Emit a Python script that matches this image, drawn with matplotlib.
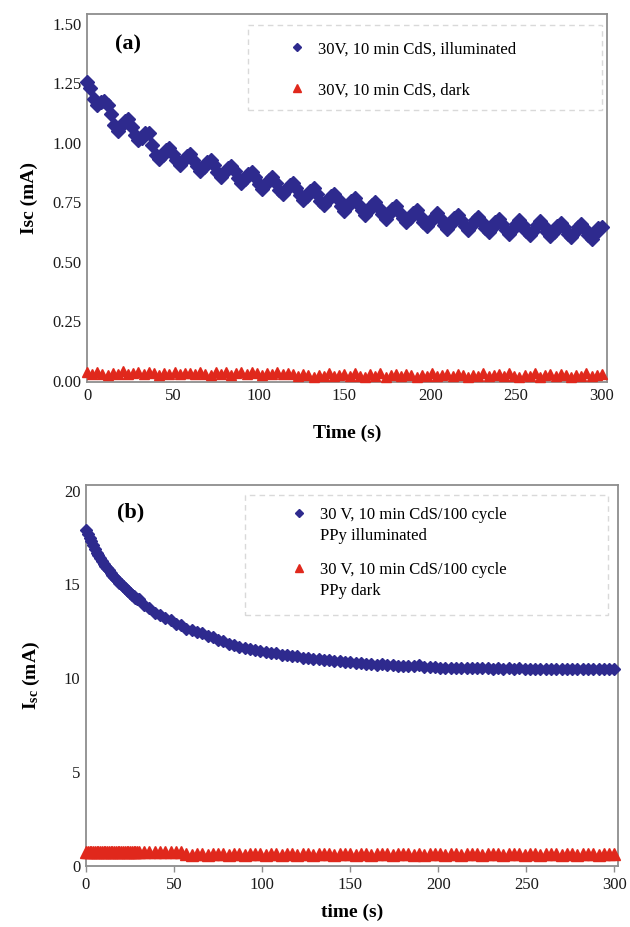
import matplotlib
matplotlib.use("Agg")
import matplotlib.pyplot as plt
import matplotlib.transforms as mtransforms
import numpy as np
from matplotlib.legend_handler import HandlerLine2D
from matplotlib.lines import Line2D
from matplotlib.patches import Rectangle

plt.rcParams["font.family"] = ["Liberation Serif", "DejaVu Serif"]
plt.rcParams["mathtext.fontset"] = "custom"
plt.rcParams["mathtext.rm"] = "Liberation Serif"
plt.rcParams["mathtext.bf"] = "Liberation Serif:bold"
plt.rcParams["mathtext.it"] = "Liberation Serif:italic"

# (a) sampling times (s): illuminated every 2 s, dark every 3 s
time_a_light = np.arange(0, 301, 2)
time_a_dark = np.arange(0, 301, 3)
# (b) sampling times: every 1 s over the fast decay, then every 3 s
time_b = np.array(list(range(0, 31)) + list(range(33, 301, 3)))

# (a) 30V, 10 min CdS -- Isc (mA)
cds_light = [
    1.255, 1.23, 1.185, 1.16, 1.17, 1.175, 1.16, 1.12, 1.075, 1.05,
    1.07, 1.09, 1.10, 1.065, 1.03, 1.01, 1.02, 1.04, 1.04, 0.99,
    0.95, 0.931, 0.947, 0.967, 0.978, 0.954, 0.925, 0.906, 0.922, 0.942,
    0.953, 0.929, 0.90, 0.881, 0.897, 0.917, 0.928, 0.904, 0.875, 0.856,
    0.872, 0.892, 0.903, 0.879, 0.85, 0.831, 0.847, 0.867, 0.878, 0.854,
    0.825, 0.806, 0.822, 0.844, 0.855, 0.831, 0.802, 0.783, 0.80, 0.821,
    0.832, 0.808, 0.779, 0.761, 0.777, 0.798, 0.809, 0.785, 0.757, 0.738,
    0.754, 0.775, 0.786, 0.763, 0.734, 0.715, 0.732, 0.754, 0.767, 0.744,
    0.716, 0.698, 0.715, 0.738, 0.75, 0.727, 0.699, 0.681, 0.699, 0.721,
    0.733, 0.71, 0.682, 0.665, 0.682, 0.704, 0.716, 0.693, 0.666, 0.648,
    0.665, 0.689, 0.703, 0.681, 0.655, 0.639, 0.658, 0.682, 0.695, 0.674,
    0.648, 0.632, 0.651, 0.674, 0.688, 0.667, 0.641, 0.625, 0.643, 0.667,
    0.681, 0.66, 0.634, 0.617, 0.636, 0.66, 0.674, 0.653, 0.628, 0.612,
    0.631, 0.655, 0.669, 0.648, 0.623, 0.607, 0.626, 0.65, 0.664, 0.644,
    0.618, 0.602, 0.621, 0.645, 0.66, 0.639, 0.613, 0.597, 0.616, 0.641,
    0.645,
]
cds_dark = [
    0.035, 0.028, 0.038, 0.030, 0.025, 0.034, 0.029, 0.040, 0.027, 0.032,
    0.036, 0.027, 0.037, 0.031, 0.026, 0.033, 0.028, 0.039, 0.028, 0.031,
    0.034, 0.029, 0.038, 0.030, 0.024, 0.035, 0.029, 0.038, 0.026, 0.032,
    0.035, 0.027, 0.036, 0.031, 0.025, 0.034, 0.030, 0.039, 0.027, 0.031,
    0.028, 0.020, 0.030, 0.023, 0.018, 0.026, 0.022, 0.032, 0.019, 0.025,
    0.027, 0.021, 0.031, 0.022, 0.017, 0.027, 0.021, 0.033, 0.018, 0.024,
    0.029, 0.019, 0.030, 0.024, 0.018, 0.025, 0.022, 0.031, 0.020, 0.026,
    0.028, 0.020, 0.029, 0.023, 0.017, 0.026, 0.021, 0.032, 0.019, 0.025,
    0.027, 0.021, 0.031, 0.022, 0.018, 0.026, 0.022, 0.033, 0.018, 0.024,
    0.028, 0.020, 0.030, 0.023, 0.017, 0.025, 0.021, 0.032, 0.019, 0.025,
    0.027,
]

# (b) 30 V, 10 min CdS/100 cycle PPy -- Isc (mA)
ppy_light = [
    17.9, 17.7, 17.5, 17.3, 17.1, 16.9, 16.7, 16.55, 16.4, 16.25,
    16.1, 16.0, 15.9, 15.75, 15.6, 15.5, 15.4, 15.3, 15.2, 15.1,
    15.0, 14.9, 14.8, 14.7, 14.65, 14.55, 14.45, 14.4, 14.3, 14.25,
    14.2,
    13.9, 13.75, 13.5, 13.4, 13.2, 13.1, 12.9, 12.82, 12.65,
    12.6, 12.45, 12.4, 12.25, 12.2, 12.05, 11.98, 11.85, 11.8, 11.68,
    11.64, 11.55, 11.52, 11.45, 11.42, 11.35, 11.33, 11.26, 11.25, 11.2,
    11.17, 11.1, 11.1, 11.04, 11.03, 10.97, 10.96, 10.91, 10.92, 10.86,
    10.86, 10.81, 10.82, 10.77, 10.77, 10.73, 10.74, 10.69, 10.7, 10.66,
    10.67, 10.63, 10.64, 10.72, 10.6, 10.58, 10.59, 10.56, 10.57, 10.55,
    10.56, 10.54, 10.55, 10.53, 10.55, 10.53, 10.54, 10.52, 10.54, 10.52,
    10.53, 10.51, 10.53, 10.51, 10.52, 10.5, 10.52, 10.5, 10.51, 10.49,
    10.51, 10.49, 10.5, 10.48, 10.5, 10.48, 10.49, 10.47, 10.49, 10.48,
    10.49,
]
ppy_dark = [
    0.74, 0.73, 0.75, 0.72, 0.74, 0.73, 0.75, 0.73, 0.72, 0.74,
    0.73, 0.75, 0.72, 0.74, 0.73, 0.74, 0.72, 0.75, 0.73, 0.74,
    0.72, 0.73, 0.75, 0.74, 0.72, 0.73, 0.74, 0.75, 0.73, 0.72,
    0.74,
    0.73, 0.75, 0.72, 0.74, 0.73, 0.74, 0.72, 0.74,
    0.62, 0.61, 0.63, 0.62, 0.61, 0.63, 0.62, 0.62, 0.61, 0.62,
    0.63, 0.61, 0.62, 0.63, 0.62, 0.61, 0.63, 0.62, 0.61, 0.63,
    0.62, 0.61, 0.62, 0.63, 0.61, 0.62, 0.63, 0.62, 0.61, 0.62,
    0.63, 0.62, 0.61, 0.63, 0.62, 0.61, 0.62, 0.63, 0.62, 0.61,
    0.62, 0.63, 0.62, 0.61, 0.63, 0.61, 0.62, 0.63, 0.62, 0.61,
    0.62, 0.63, 0.61, 0.62, 0.62, 0.63, 0.61, 0.62, 0.63, 0.62,
    0.61, 0.62, 0.63, 0.62, 0.61, 0.62, 0.63, 0.61, 0.62, 0.63,
    0.62, 0.61, 0.63, 0.62, 0.61, 0.62, 0.63, 0.62, 0.61, 0.62,
    0.63, 0.62,
]

labels_a = ["30V, 10 min CdS, illuminated", "30V, 10 min CdS, dark"]
labels_b = ["30 V, 10 min CdS/100 cycle\nPPy illuminated",
            "30 V, 10 min CdS/100 cycle\nPPy dark"]

BLUE = "#2e2a8e"
RED = "#e0281c"
SPINE = "#8e8e8e"


class TopLineHandler(HandlerLine2D):
    # put the marker next to the first line of a two-line label
    def create_artists(self, legend, orig_handle, xdescent, ydescent,
                       width, height, fontsize, trans):
        shift = mtransforms.Affine2D().translate(0, 0.78 * fontsize)
        return super().create_artists(legend, orig_handle, xdescent, ydescent,
                                      width, height, fontsize, shift + trans)


def style_axes(ax):
    for sp in ax.spines.values():
        sp.set_color(SPINE)
        sp.set_linewidth(1.3)
    ax.tick_params(labelsize=12, colors="#1a1a1a", pad=4)


fig = plt.figure(figsize=(6.3, 9.27), dpi=100)

# ---- panel (a) ----
ax1 = fig.add_axes([87 / 630, 1 - 382 / 927, 520 / 630, 368 / 927])
ax1.plot(time_a_dark, cds_dark, ls="none", marker="^", ms=7.5, color=RED, clip_on=False, zorder=3)
ax1.plot(time_a_light, cds_light, ls="none", marker="D", ms=6.8, color=BLUE, clip_on=False, zorder=4)
ax1.set_xlim(0, 303)
ax1.set_ylim(-0.005, 1.54)
ax1.set_xticks([0, 50, 100, 150, 200, 250, 300])
ax1.set_yticks([0, 0.25, 0.5, 0.75, 1.0, 1.25, 1.5])
ax1.set_yticklabels(["0.00", "0.25", "0.50", "0.75", "1.00", "1.25", "1.50"])
style_axes(ax1)
ax1.tick_params(length=0)
ax1.set_xlabel("Time (s)", fontsize=14, fontweight="bold")
ax1.set_ylabel("Isc (mA)", fontsize=14, fontweight="bold")
ax1.xaxis.set_label_coords(0.5, -0.14)
ax1.yaxis.set_label_coords(-0.11, 0.5)
ax1.xaxis.label.set_va("center")
ax1.yaxis.label.set_va("center")
ax1.text(0.053, 0.918, "(a)", transform=ax1.transAxes, fontsize=16,
         fontweight="bold", va="center")

ax1.add_patch(Rectangle((0.31, 0.739), 0.68, 0.231, transform=ax1.transAxes,
                        fill=False, ec="#d9d9d9", lw=1, ls=(0, (4, 3)), clip_on=False))
h_a = [Line2D([], [], ls="none", marker="D", ms=4.5, color=BLUE),
       Line2D([], [], ls="none", marker="^", ms=6, color=RED)]
ax1.legend(h_a, labels_a, loc="upper left", bbox_to_anchor=(0.388, 0.926),
           frameon=False, fontsize=12, borderpad=0, borderaxespad=0,
           handlelength=1.0, handletextpad=0.75, labelspacing=1.5)

# ---- panel (b) ----
ax2 = fig.add_axes([86 / 630, 1 - 866 / 927, 532 / 630, 381 / 927])
ax2.plot(time_b, ppy_dark, ls="none", marker="^", ms=8, color=RED, clip_on=False, zorder=3)
ax2.plot(time_b, ppy_light, ls="none", marker="D", ms=6, color=BLUE, clip_on=False, zorder=4)
ax2.set_xlim(0, 302)
ax2.set_ylim(0, 20.3)
ax2.set_xticks([0, 50, 100, 150, 200, 250, 300])
ax2.set_yticks([0, 5, 10, 15, 20])
style_axes(ax2)
ax2.tick_params(axis="x", length=4, width=1, color=SPINE)
ax2.tick_params(axis="y", length=0)
ax2.set_xlabel("time (s)", fontsize=14, fontweight="bold")
ax2.set_ylabel(r"$\mathbf{I}_{\mathbf{sc}}$ (mA)", fontsize=14, fontweight="bold")
ax2.xaxis.set_label_coords(0.5, -0.121)
ax2.yaxis.set_label_coords(-0.102, 0.5)
ax2.xaxis.label.set_va("center")
ax2.yaxis.label.set_va("center")
ax2.text(0.058, 0.929, "(b)", transform=ax2.transAxes, fontsize=16,
         fontweight="bold", va="center")

ax2.add_patch(Rectangle((0.299, 0.659), 0.683, 0.315, transform=ax2.transAxes,
                        fill=False, ec="#d9d9d9", lw=1, ls=(0, (4, 3)), clip_on=False))
h_b = [Line2D([], [], ls="none", marker="D", ms=4.5, color=BLUE),
       Line2D([], [], ls="none", marker="^", ms=6, color=RED)]
leg_b = ax2.legend(h_b, labels_b, loc="upper left", bbox_to_anchor=(0.385, 0.942),
                   frameon=False, fontsize=12, borderpad=0, borderaxespad=0,
                   handlelength=1.0, handletextpad=0.75, labelspacing=1.05,
                   handler_map={Line2D: TopLineHandler()})
for txt in leg_b.get_texts():
    txt.set_linespacing(1.45)

fig.savefig("out.png", dpi=100)
